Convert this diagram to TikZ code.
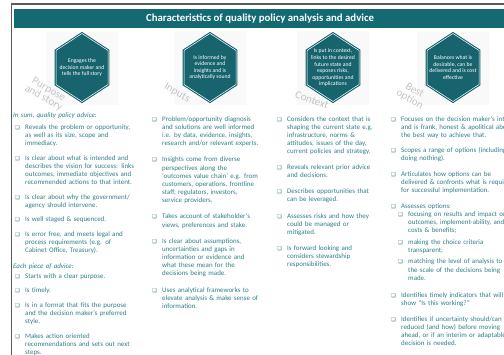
\documentclass[tikz,border=0pt]{standalone}
\usepackage{fontspec}
\setmainfont{Carlito}
\newfontfamily\symfont{DejaVu Sans}
\usetikzlibrary{positioning}
\definecolor{hexfill}{HTML}{17646E}
\definecolor{barfill}{HTML}{136A73}
\definecolor{txt}{HTML}{2F7E88}
\definecolor{boxc}{HTML}{23606A}
\definecolor{lbl}{HTML}{C4C4C4}
\definecolor{framec}{HTML}{5A5A5A}
\newcommand\bodyfont{\fontsize{6.95}{8.1}\selectfont}
\newcommand\chk{\llap{{\color{boxc}\symfont\fontsize{5.2}{5}\selectfont ❑}\hspace{5.5pt}}}
\tikzset{
  hexa/.style   = { fill=hexfill, draw=hexfill, line width=1.1pt, double=white, double distance=0.5pt },
  hextxt/.style = { align=center, text=white, inner sep=0pt, font=\fontsize{5.7}{6.6}\selectfont },
  tag/.style    = { align=center, text=lbl, inner sep=0pt, font=\fontsize{11}{10}\selectfont },
  backsq/.style = { fill=black!2.5 },
  item/.style   = { anchor=north west, inner sep=0pt, text width=150pt, align=left, text=txt,
    font=\bodyfont, execute at begin node=\strut, execute at end node=\strut },
  head/.style   = { item, font=\bodyfont\itshape },
  under/.style  = { below=#1, anchor=north west }
}
\begin{document}
\begin{tikzpicture}[x=1pt, y=-1pt]
  \useasboundingbox (0,0) rectangle (504,355);
  \clip (0,0) rectangle (504,355);
  % frame and title
  \draw[framec, line width=1.5pt] (11.5,355) -- (11.5,4) -- (504,4);
  \fill[barfill] (14,9.5) rectangle (504,28.5);
  \node[font=\fontsize{10.8}{12}\selectfont\bfseries, text=white] (title) at (260,19)
    {Characteristics of quality policy analysis and advice};
  % pale squares behind the hexagons
  \fill[backsq] (46,31) rectangle (118,105);
  \fill[backsq] (174,31) rectangle (246,105);
  \fill[backsq] (297,31) rectangle (369,105);
  \fill[backsq] (417,31) rectangle (489,105);
  % grey tags
  \node[tag, rotate=-30] (purpose) at (46,94) {Purpose\\and story};
  \node[tag, rotate=-30] (inputs) at (177,93) {Inputs};
  \node[tag, rotate=-20] (context) at (312,100) {Context};
  \node[tag, rotate=-30] (best) at (412,95) {Best\\option};
  % hexagons
  \draw[hexa] (82,33.5) -- ++(26,17) -- ++(0,34) -- ++(-26,17) -- ++(-26,-17) -- ++(0,-34) -- cycle;
  \draw[hexa] (210,33.5) -- ++(26,17) -- ++(0,34) -- ++(-26,17) -- ++(-26,-17) -- ++(0,-34) -- cycle;
  \draw[hexa] (333,33.5) -- ++(26,17) -- ++(0,34) -- ++(-26,17) -- ++(-26,-17) -- ++(0,-34) -- cycle;
  \draw[hexa] (453,33.5) -- ++(26,17) -- ++(0,34) -- ++(-26,17) -- ++(-26,-17) -- ++(0,-34) -- cycle;
  \node[hextxt] (h1) at (82,67.5) {Engages the\\decision maker and\\tells the full story};
  \node[hextxt] (h2) at (210,67.5) {Is informed by\\evidence and\\insights and is\\analytically sound};
  \node[hextxt] (h3) at (333,68) {Is put in context,\\links to the desired\\future state and\\exposes risks,\\opportunities and\\implications};
  \node[hextxt] (h4) at (453,67.5) {Balances what is\\desirable, can be\\delivered and is cost\\effective};

  % purpose and story
  \begin{scope}[node distance=6.2pt]
    \node[head] (sum) at (13,111.3) {In sum, quality policy advice:};
    \node[item, under=3.5pt of sum.south west, xshift=12pt] (p1) {\chk Reveals the problem or opportunity,\\as well as its size, scope and\\immediacy.};
    \node[item, under=of p1.south west] (p2) {\chk Is clear about what is intended and\\describes the vision for success: links\\outcomes, immediate objectives and\\recommended actions to that intent.};
    \node[item, under=of p2.south west] (p3) {\chk Is clear about why the government/\\agency should intervene.};
    \node[item, under=of p3.south west] (p4) {\chk Is well staged \& sequenced.};
    \node[item, under=of p4.south west] (p5) {\chk Is error free, and meets legal and\\process requirements (e.g. of\\Cabinet Office, Treasury).};
    \node[head, under=7pt of p5.south west, xshift=-12pt] (each) {Each piece of advice:};
    \node[item, under=1.5pt of each.south west, xshift=12pt] (p6) {\chk Starts with a clear purpose.};
    \node[item, under=of p6.south west] (p7) {\chk Is timely.};
    \node[item, under=of p7.south west] (p8) {\chk Is in a format that fits the purpose\\and the decision maker’s preferred\\style.};
    \node[item, under=of p8.south west] (p9) {\chk Makes action oriented\\recommendations and sets out next\\steps.};
  \end{scope}

  % inputs
  \begin{scope}[node distance=8pt]
    \node[item] (q1) at (162,115.3) {\chk Problem/opportunity diagnosis\\and solutions are well informed\\i.e. by data, evidence, insights,\\research and/or relevant experts.};
    \node[item, under=of q1.south west] (q2) {\chk Insights come from diverse\\perspectives along the\\‘outcomes value chain’ e.g. from\\customers, operations, frontline\\staff, regulators, investors,\\service providers.};
    \node[item, under=of q2.south west] (q3) {\chk Takes account of stakeholder’s\\views, preferences and stake.};
    \node[item, under=of q3.south west] (q4) {\chk Is clear about assumptions,\\uncertainties and gaps in\\information or evidence and\\what these mean for the\\decisions being made.};
    \node[item, under=of q4.south west] (q5) {\chk Uses analytical frameworks to\\elevate analysis \& make sense of\\information.};
  \end{scope}

  % context
  \begin{scope}[node distance=7.6pt]
    \node[item] (c1) at (287,115.3) {\chk Considers the context that is\\shaping the current state e.g.\\infrastructure, norms \&\\attitudes, issues of the day,\\current policies and strategy.};
    \node[item, under=of c1.south west] (c2) {\chk Reveals relevant prior advice\\and decisions.};
    \node[item, under=of c2.south west] (c3) {\chk Describes opportunities that\\can be leveraged.};
    \node[item, under=of c3.south west] (c4) {\chk Assesses risks and how they\\could be managed or\\mitigated.};
    \node[item, under=of c4.south west] (c5) {\chk Is forward looking and\\considers stewardship\\responsibilities.};
  \end{scope}

  % best option
  \begin{scope}[node distance=7pt]
    \node[item] (r1) at (401,115.3) {\chk Focuses on the decision maker’s interests\\and is frank, honest \& apolitical about\\the best way to achieve that.};
    \node[item, under=of r1.south west] (r2) {\chk Scopes a range of options (including\\doing nothing).};
    \node[item, under=of r2.south west] (r3) {\chk Articulates how options can be\\delivered \& confronts what is required\\for successful implementation.};
    \node[item, under=of r3.south west] (r4) {\chk Assesses options:};
    \node[item, under=0pt of r4.south west, xshift=7pt] (r4a) {\chk focusing on results and impact on\\outcomes, implement-ability, and\\costs \& benefits;};
    \node[item, under=3pt of r4a.south west] (r4b) {\chk making the choice criteria\\transparent;};
    \node[item, under=3pt of r4b.south west] (r4c) {\chk matching the level of analysis to\\the scale of the decisions being\\made.};
    \node[item, under=9pt of r4c.south west, xshift=-7pt] (r5) {\chk Identifies timely indicators that will\\show “Is this working?”};
    \node[item, under=of r5.south west] (r6) {\chk Identifies if uncertainty should/can be\\reduced (and how) before moving\\ahead, or if an interim or adaptable\\decision is needed.};
  \end{scope}
\end{tikzpicture}
\end{document}
